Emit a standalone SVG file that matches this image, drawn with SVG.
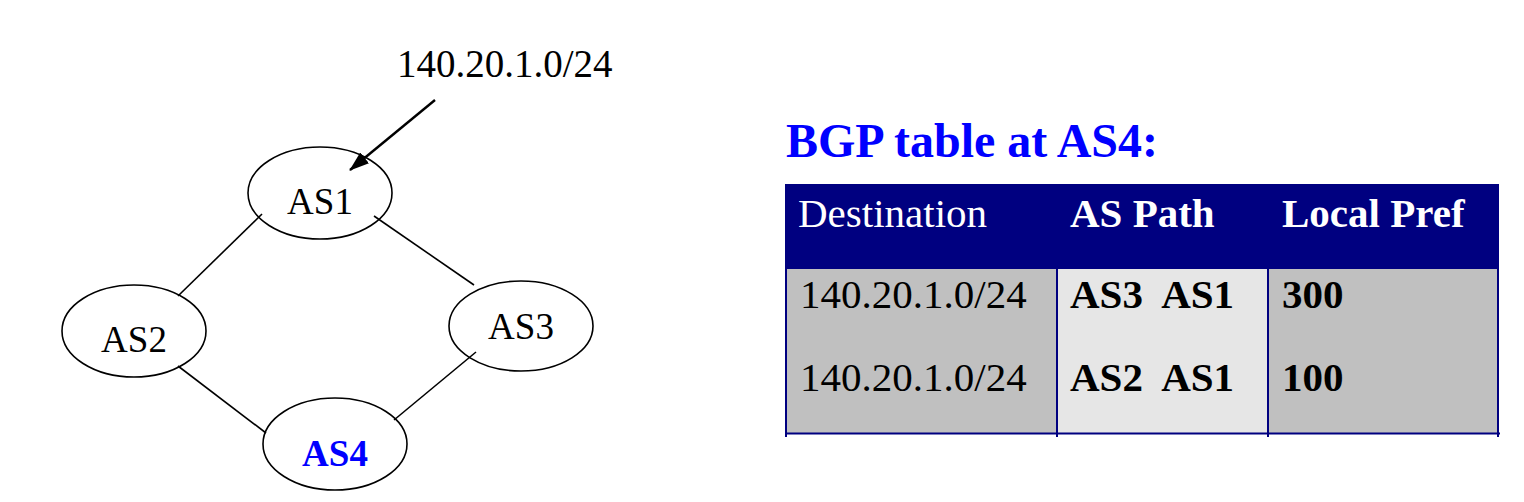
<svg xmlns="http://www.w3.org/2000/svg" width="1524" height="502" viewBox="0 0 1524 502">
<style>
.node{fill:#fff;stroke:#000;stroke-width:1.6}
.lbl{font-family:"Liberation Serif",serif;font-size:37px;fill:#000;text-anchor:middle}
.edge{stroke:#000;stroke-width:1.6;fill:none}
.tx{font-family:"Liberation Serif",serif;font-size:41px}
.b{font-weight:bold}
.grid{stroke:#000080;stroke-width:2}
</style>
<defs>
<marker id="ah2" viewBox="0 0 20 14" refX="19" refY="7" markerWidth="20" markerHeight="14" orient="auto" markerUnits="userSpaceOnUse">
<path d="M0,0 L20,7 L0,14 z" fill="#000"/>
</marker>
</defs>
<rect width="1524" height="502" fill="#fff"/>
<g id="prefix-label">
<text class="tx" x="397" y="77" style="font-size:39px">140.20.1.0/24</text>
</g>
<g id="AS1">
<ellipse class="node" cx="320" cy="193" rx="72" ry="46"/>
<text class="lbl" x="320" y="214">AS1</text>
</g>
<g id="AS2">
<ellipse class="node" cx="134" cy="331" rx="72" ry="46"/>
<text class="lbl" x="134" y="352">AS2</text>
</g>
<g id="AS3">
<ellipse class="node" cx="521" cy="326" rx="72" ry="45"/>
<text class="lbl" x="521" y="339">AS3</text>
</g>
<g id="AS4">
<ellipse class="node" cx="335" cy="444" rx="72" ry="46"/>
<text class="lbl b" x="335" y="466" style="fill:#0000ff">AS4</text>
</g>
<g id="connectors">
<line class="edge" x1="262" y1="214" x2="178" y2="296"/>
<line class="edge" x1="374" y1="216" x2="474" y2="285"/>
<line class="edge" x1="178" y1="366" x2="266" y2="433"/>
<line class="edge" x1="476" y1="352" x2="394" y2="420"/>
<line x1="435" y1="100" x2="350" y2="170" stroke="#000" stroke-width="2.4" marker-end="url(#ah2)"/>
</g>
<g id="bgp-table">
<text x="786" y="157" font-family="Liberation Serif, serif" font-size="48" font-weight="bold" fill="#0000ff">BGP table at AS4:</text>
<rect x="785" y="184" width="712" height="85" fill="#000080"/>
<rect x="786" y="269" width="271" height="164" fill="#c0c0c0"/>
<rect x="1057" y="269" width="211" height="164" fill="#e6e6e6"/>
<rect x="1268" y="269" width="229" height="164" fill="#c0c0c0"/>
<line class="grid" x1="786" y1="269" x2="786" y2="437"/>
<line class="grid" x1="1057" y1="269" x2="1057" y2="437"/>
<line class="grid" x1="1268" y1="269" x2="1268" y2="437"/>
<line class="grid" x1="1498" y1="184" x2="1498" y2="437"/>
<line class="grid" x1="786" y1="433.5" x2="1500" y2="433.5"/>
<text class="tx" x="798" y="227" fill="#fff">Destination</text>
<text class="tx b" x="1070" y="227" fill="#fff">AS Path</text>
<text class="tx b" x="1282" y="227" fill="#fff">Local Pref</text>
<text class="tx" x="800" y="308">140.20.1.0/24</text>
<text class="tx b" x="1070" y="308" xml:space="preserve">AS3  AS1</text>
<text class="tx b" x="1282" y="308">300</text>
<text class="tx" x="800" y="391">140.20.1.0/24</text>
<text class="tx b" x="1070" y="391" xml:space="preserve">AS2  AS1</text>
<text class="tx b" x="1282" y="391">100</text>
</g>
</svg>
